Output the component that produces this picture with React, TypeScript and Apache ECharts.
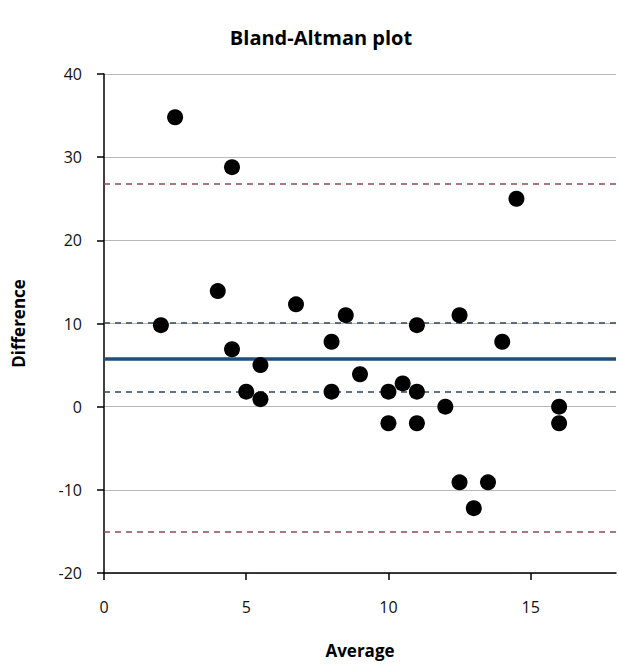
import React, { useEffect, useRef } from "react";
import * as echarts from "echarts";

const averages = [2.5, 4.5, 14.5, 2, 4, 4.5, 6.75, 5.5, 5, 5.5, 8, 8, 8.5, 9, 10, 10.5, 11, 11, 10, 11, 12, 12.5, 14, 16, 16, 12.5, 13.5, 13];
const differences = [34.8, 28.8, 25, 9.8, 13.9, 6.9, 12.3, 5, 1.8, 0.9, 7.8, 1.8, 11, 3.9, 1.8, 2.8, 1.8, 9.8, -2, -2, 0, 11, 7.8, 0, -2, -9.1, -9.1, -12.2];
const meanDiff = 5.8;
const ciLines = [10.05, 1.75];
const loaLines = [26.8, -15];

export default function App() {
  const ref = useRef<HTMLDivElement>(null);
  useEffect(() => {
    if (!ref.current) return;
    const chart = echarts.init(ref.current, undefined, { renderer: "svg" });
    const font = "Open Sans";
    chart.setOption({
      animation: false,
      backgroundColor: "#fff",
      title: {
        text: "Bland-Altman plot",
        left: 316,
        top: 22,
        textAlign: "center",
        textStyle: { fontFamily: font, fontWeight: "bold", fontSize: 20, color: "#000" },
      },
      grid: { left: 104, right: 3, top: 74, bottom: 88 },
      xAxis: {
        type: "value",
        min: 0,
        max: 18,
        interval: 5,
        name: "Average",
        nameLocation: "middle",
        nameGap: 69,
        nameTextStyle: { fontFamily: font, fontWeight: "bold", fontSize: 17, color: "#000" },
        axisLine: { show: true, onZero: false, lineStyle: { color: "#000", width: 1.5 } },
        axisTick: { show: true, length: 7, lineStyle: { color: "#000", width: 1.5 } },
        axisLabel: { fontFamily: font, fontSize: 16, color: "#111", margin: 26, showMaxLabel: false },
        splitLine: { show: false },
      },
      yAxis: {
        type: "value",
        min: -20,
        max: 40,
        interval: 10,
        name: "Difference",
        nameLocation: "middle",
        nameGap: 77,
        nameTextStyle: { fontFamily: font, fontWeight: "bold", fontSize: 17, color: "#000" },
        axisLine: { show: true, lineStyle: { color: "#000", width: 1.5 } },
        axisTick: { show: true, length: 7, lineStyle: { color: "#000", width: 1.5 } },
        axisLabel: { fontFamily: font, fontSize: 16, color: "#111", margin: 22 },
        splitLine: { show: true, lineStyle: { color: "#b8b8b8", width: 1.2 } },
      },
      series: [
        {
          type: "scatter",
          data: averages.map((a, i) => [a, differences[i]]),
          symbol: "circle",
          symbolSize: 16,
          itemStyle: { color: "#000", opacity: 1 },
          z: 5,
          markLine: {
            silent: true,
            symbol: "none",
            label: { show: false },
            z: 3,
            data: [
              ...loaLines.map((v) => ({ yAxis: v, lineStyle: { color: "#8a4a55", type: [6, 5], width: 1.5 } })),
              ...ciLines.map((v) => ({ yAxis: v, lineStyle: { color: "#2f4560", type: [6, 5], width: 1.5 } })),
              { yAxis: meanDiff, lineStyle: { color: "#1f4e79", type: "solid", width: 3.5 } },
            ],
          },
        },
      ],
    });
    return () => chart.dispose();
  }, []);
  return (
    <div
      ref={ref}
      style={{ position: "fixed", left: 0, top: 0, width: 619, height: 664, overflow: "hidden" }}
    />
  );
}
